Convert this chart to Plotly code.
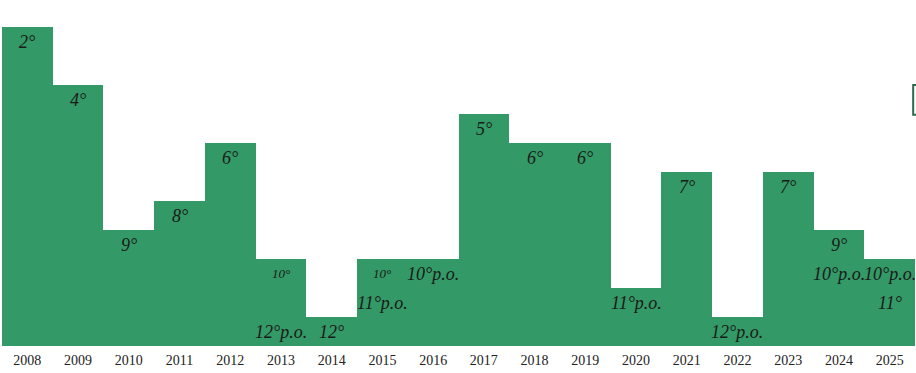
import plotly.graph_objects as go

years = [str(y) for y in range(2008, 2026)]
bar_heights = [11, 9, 4, 5, 7, 3, 1, 3, 3, 8, 7, 7, 2, 6, 1, 6, 4, 3]

label_years = ["2008", "2009", "2010", "2011", "2012", "2013", "2013", "2014", "2015", "2015",
               "2016", "2017", "2018", "2019", "2020", "2021", "2022", "2023", "2024", "2024",
               "2025", "2025"]
label_pos = [10.5, 8.5, 3.5, 4.5, 6.5, 2.5, 0.5, 0.5, 2.5, 1.5,
             2.5, 7.5, 6.5, 6.5, 1.5, 5.5, 0.5, 5.5, 3.5, 2.5,
             2.5, 1.5]
label_texts = ["2°", "4°", "9°", "8°", "6°", "10°", "12°p.o.", "12°", "10°", "11°p.o.",
               "10°p.o.", "5°", "6°", "6°", "11°p.o.", "7°", "12°p.o.", "7°", "9°", "10°p.o.",
               "10°p.o.", "11°"]
label_small = [False, False, False, False, False, True, False, False, True, False,
               False, False, False, False, False, False, False, False, False, False,
               False, False]

fig = go.Figure()
fig.add_trace(go.Bar(
    x=years, y=bar_heights,
    marker=dict(color="#339966", line=dict(width=0)),
    hoverinfo="skip",
))

for yr, pos, txt, small in zip(label_years, label_pos, label_texts, label_small):
    fig.add_annotation(
        x=years.index(yr), y=pos, text="<i>%s</i>" % txt, showarrow=False,
        font=dict(family="Liberation Serif", size=13 if small else 18, color="#1a1a1a"),
        xanchor="center", yanchor="middle",
    )

fig.add_shape(type="rect", xref="paper", yref="paper",
              x0=0.998, x1=1.004, y0=0.668, y1=0.754,
              line=dict(color="#2e6b4c", width=2), fillcolor="rgba(0,0,0,0)")

fig.update_layout(
    width=916, height=373,
    margin=dict(l=2, r=1, t=0, b=27),
    paper_bgcolor="white", plot_bgcolor="white",
    bargap=0, showlegend=False,
    xaxis=dict(type="category", range=[-0.5, len(years) - 0.5],
               showgrid=False, showline=False, ticks="",
               tickfont=dict(family="Liberation Serif", size=14, color="#222"),
               ticklabelstandoff=4),
    yaxis=dict(range=[0, 346 / 29], showgrid=False, showticklabels=False,
               zeroline=False, showline=False),
)

fig.write_html("out.html", config={"displayModeBar": False},
               post_script="document.body.style.margin='0';document.body.style.overflow='hidden';")
